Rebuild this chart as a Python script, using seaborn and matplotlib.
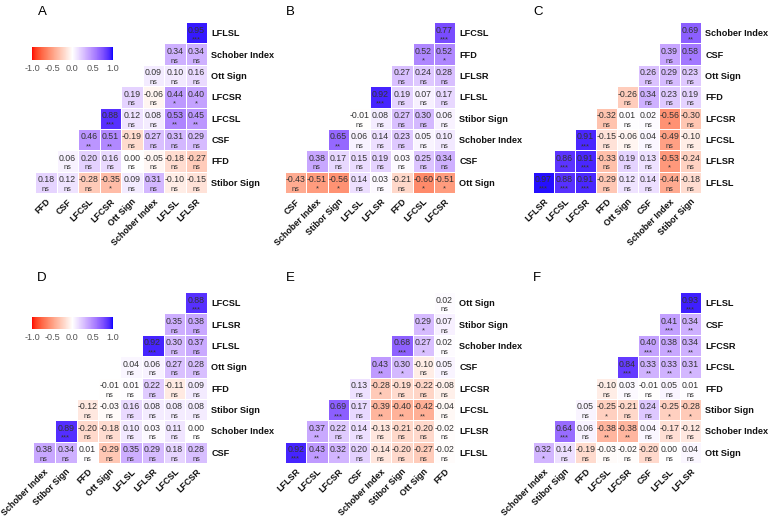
import numpy as np
import pandas as pd
import matplotlib
matplotlib.use("Agg")
import matplotlib.pyplot as plt
import seaborn as sns
from matplotlib.colors import ListedColormap

# --- data: rows listed top -> bottom, values right-aligned in each row ---
A_cols = ["FFD", "CSF", "LFCSL", "LFCSR", "Ott Sign", "Schober Index", "LFLSL", "LFLSR"]
A_rows = ["LFLSL", "Schober Index", "Ott Sign", "LFCSR", "LFCSL", "CSF", "FFD", "Stibor Sign"]
A_vals = [[0.95], [0.34, 0.34], [0.09, 0.10, 0.16], [0.19, -0.06, 0.44, 0.40],
          [0.88, 0.12, 0.08, 0.53, 0.45], [0.46, 0.51, -0.19, 0.27, 0.31, 0.29],
          [0.06, 0.20, 0.16, 0.00, -0.05, -0.18, -0.27],
          [0.18, 0.12, -0.28, -0.35, 0.09, 0.31, -0.10, -0.15]]
A_sig = [["***"], ["ns", "ns"], ["ns", "ns", "ns"], ["ns", "ns", "*", "*"],
         ["***", "ns", "ns", "**", "**"], ["**", "**", "ns", "ns", "ns", "ns"],
         ["ns"] * 7, ["ns", "ns", "ns", "*", "ns", "ns", "ns", "ns"]]

B_cols = ["CSF", "Schober Index", "Stibor Sign", "LFLSL", "LFLSR", "FFD", "LFCSL", "LFCSR"]
B_rows = ["LFCSL", "FFD", "LFLSR", "LFLSL", "Stibor Sign", "Schober Index", "CSF", "Ott Sign"]
B_vals = [[0.77], [0.52, 0.52], [0.27, 0.24, 0.28], [0.92, 0.19, 0.07, 0.17],
          [-0.01, 0.08, 0.27, 0.30, 0.06], [0.65, 0.06, 0.14, 0.23, 0.05, 0.10],
          [0.38, 0.17, 0.15, 0.19, 0.03, 0.25, 0.34],
          [-0.43, -0.51, -0.56, 0.14, 0.03, -0.21, -0.60, -0.51]]
B_sig = [["***"], ["*", "*"], ["ns"] * 3, ["***", "ns", "ns", "ns"], ["ns"] * 5,
         ["**", "ns", "ns", "ns", "ns", "ns"], ["ns"] * 7,
         ["ns", "*", "*", "ns", "ns", "ns", "*", "*"]]

C_cols = ["LFLSR", "LFCSL", "LFCSR", "FFD", "Ott Sign", "CSF", "Schober Index", "Stibor Sign"]
C_rows = ["Schober Index", "CSF", "Ott Sign", "FFD", "LFCSR", "LFCSL", "LFLSR", "LFLSL"]
C_vals = [[0.69], [0.39, 0.58], [0.26, 0.29, 0.23], [-0.26, 0.34, 0.23, 0.19],
          [-0.32, 0.01, 0.02, -0.56, -0.30], [0.91, -0.15, -0.06, 0.04, -0.49, -0.10],
          [0.86, 0.91, -0.33, 0.19, 0.13, -0.53, -0.24],
          [0.97, 0.88, 0.91, -0.29, 0.12, 0.14, -0.44, -0.18]]
C_sig = [["**"], ["ns", "*"], ["ns"] * 3, ["ns"] * 4, ["ns", "ns", "ns", "*", "ns"],
         ["***", "ns", "ns", "ns", "ns", "ns"],
         ["***", "***", "ns", "ns", "ns", "*", "ns"],
         ["***", "***", "***", "ns", "ns", "ns", "ns", "ns"]]

D_cols = ["Schober Index", "Stibor Sign", "FFD", "Ott Sign", "LFLSL", "LFLSR", "LFCSL", "LFCSR"]
D_rows = ["LFCSL", "LFLSR", "LFLSL", "Ott Sign", "FFD", "Stibor Sign", "Schober Index", "CSF"]
D_vals = [[0.88], [0.35, 0.38], [0.92, 0.30, 0.37], [0.04, 0.06, 0.27, 0.28],
          [-0.01, 0.01, 0.22, -0.11, 0.09], [-0.12, -0.03, 0.16, 0.08, 0.08, 0.08],
          [0.89, -0.20, -0.18, 0.10, 0.03, 0.11, 0.00],
          [0.38, 0.34, 0.01, -0.29, 0.35, 0.29, 0.18, 0.28]]
D_sig = [["***"], ["ns", "ns"], ["***", "ns", "ns"], ["ns"] * 4, ["ns"] * 5, ["ns"] * 6,
         ["***"] + ["ns"] * 6, ["ns"] * 8]

E_cols = ["LFLSR", "LFCSL", "LFCSR", "CSF", "Schober Index", "Stibor Sign", "Ott Sign", "FFD"]
E_rows = ["Ott Sign", "Stibor Sign", "Schober Index", "CSF", "LFCSR", "LFCSL", "LFLSR", "LFLSL"]
E_vals = [[0.02], [0.29, 0.07], [0.68, 0.27, 0.02], [0.43, 0.30, -0.10, 0.05],
          [0.13, -0.28, -0.19, -0.22, -0.08], [0.69, 0.17, -0.39, -0.40, -0.42, -0.04],
          [0.37, 0.22, 0.14, -0.13, -0.21, -0.20, -0.02],
          [0.92, 0.43, 0.32, 0.20, -0.14, -0.20, -0.27, -0.02]]
E_sig = [["ns"], ["*", "ns"], ["***", "*", "ns"], ["**", "*", "ns", "ns"],
         ["ns", "*", "ns", "ns", "ns"], ["***", "ns", "**", "**", "**", "ns"],
         ["**"] + ["ns"] * 6, ["***", "**", "*", "ns", "ns", "ns", "ns", "ns"]]

F_cols = ["Schober Index", "Stibor Sign", "FFD", "LFCSL", "LFCSR", "CSF", "LFLSL", "LFLSR"]
F_rows = ["LFLSL", "CSF", "LFCSR", "LFCSL", "FFD", "Stibor Sign", "Schober Index", "Ott Sign"]
F_vals = [[0.93], [0.41, 0.34], [0.40, 0.38, 0.34], [0.84, 0.33, 0.33, 0.31],
          [-0.10, 0.03, -0.01, 0.05, 0.01], [0.05, -0.25, -0.21, 0.24, -0.25, -0.28],
          [0.64, 0.06, -0.38, -0.38, 0.04, -0.17, -0.12],
          [0.32, 0.14, -0.19, -0.03, -0.02, -0.20, 0.00, 0.04]]
F_sig = [["***"], ["***", "**"], ["***", "**", "**"], ["***", "**", "**", "*"], ["ns"] * 5,
         ["ns", "*", "ns", "ns", "*", "*"], ["***", "ns", "**", "**", "ns", "ns", "ns"],
         ["*"] + ["ns"] * 7]


def lab_ramp(c0, c1, n):
    """interpolate two sRGB colours in CIELAB (like ggplot's gradient2)"""
    M = np.array([[0.4124564, 0.3575761, 0.1804375],
                  [0.2126729, 0.7151522, 0.0721750],
                  [0.0193339, 0.1191920, 0.9503041]])
    wn = np.array([0.95047, 1.0, 1.08883])
    d = 6 / 29

    def to_lab(c):
        c = np.asarray(c, float)
        lin = np.where(c <= 0.04045, c / 12.92, ((c + 0.055) / 1.055) ** 2.4)
        xyz = M @ lin / wn
        f = np.where(xyz > d ** 3, np.cbrt(xyz), xyz / (3 * d * d) + 4 / 29)
        return np.array([116 * f[1] - 16, 500 * (f[0] - f[1]), 200 * (f[1] - f[2])])

    def to_rgb(lab):
        fy = (lab[0] + 16) / 116
        f = np.array([fy + lab[1] / 500, fy, fy - lab[2] / 200])
        xyz = np.where(f > d, f ** 3, 3 * d * d * (f - 4 / 29)) * wn
        lin = np.linalg.inv(M) @ xyz
        lin = np.clip(lin, 0, 1)
        return np.where(lin <= 0.0031308, 12.92 * lin, 1.055 * lin ** (1 / 2.4) - 0.055)

    l0, l1 = to_lab(c0), to_lab(c1)
    return [np.clip(to_rgb(l0 + (l1 - l0) * t), 0, 1) for t in np.linspace(0, 1, n)]


cmap = ListedColormap(lab_ramp((1, 0, 0), (1, 1, 1), 128) + lab_ramp((1, 1, 1), (0, 0, 1), 128))

sns.set_theme(style="white")
plt.rcParams["font.family"] = ["Liberation Sans", "DejaVu Sans"]

W, H = 773, 524
fig = plt.figure(figsize=(W / 100, H / 100), dpi=100)


def px(x0, y0, x1, y1):
    return [x0 / W, 1 - y1 / H, (x1 - x0) / W, (y1 - y0) / H]


def draw_panel(box, cols, rows, vals, sig, letter, letter_xy, cbar_box=None):
    ax = fig.add_axes(px(*box))
    n = len(cols)
    mat = np.full((n, n), np.nan)
    for i, rv in enumerate(vals):
        mat[i, n - len(rv):] = rv
    df = pd.DataFrame(mat, index=rows, columns=cols)
    cax = fig.add_axes(px(*cbar_box)) if cbar_box else None
    sns.heatmap(df, ax=ax, cmap=cmap, vmin=-1, vmax=1, mask=np.isnan(mat),
                linewidths=0.6, linecolor="white", cbar=cax is not None, cbar_ax=cax,
                cbar_kws={"orientation": "horizontal", "ticks": [-1, -0.5, 0, 0.5, 1]})
    for i, (rv, rs) in enumerate(zip(vals, sig)):
        for k, (v, s) in enumerate(zip(rv, rs)):
            j = n - len(rv) + k
            ax.text(j + 0.5, i + 0.38, f"{v:.2f}", ha="center", va="center",
                    fontsize=6.3, color="#333333")
            ax.text(j + 0.5, i + 0.9, s, ha="center", va="baseline",
                    fontsize=5.3, color="#333333")
    ax.yaxis.tick_right()
    ax.set_yticks(np.arange(n) + 0.5)
    ax.set_yticklabels(rows, rotation=0, fontsize=6.6, fontweight="bold", color="#111111")
    ax.set_xticks(np.arange(n) + 0.5)
    ax.set_xticklabels(cols, rotation=45, ha="right", rotation_mode="anchor",
                       fontsize=6.4, fontweight="bold", color="#111111")
    ax.tick_params(length=0, pad=3)
    ax.set_xlabel("")
    ax.set_ylabel("")
    fig.text(letter_xy[0] / W, 1 - letter_xy[1] / H, letter, fontsize=9.5,
             ha="center", va="center", color="black")
    if cax is not None:
        cb = ax.collections[0].colorbar
        cb.outline.set_visible(False)
        cax.tick_params(length=0, labelsize=6.6, labelcolor="#555555", pad=3)
        cax.set_xticklabels(["-1.0", "-0.5", "0.0", "0.5", "1.0"])


draw_panel((35, 22, 207, 193), A_cols, A_rows, A_vals, A_sig, "A", (42, 12), (32, 47, 113, 60))
draw_panel((285, 22, 455, 193), B_cols, B_rows, B_vals, B_sig, "B", (290, 12))
draw_panel((533, 22, 701, 193), C_cols, C_rows, C_vals, C_sig, "C", (538, 12))
draw_panel((33, 292, 207, 463), D_cols, D_rows, D_vals, D_sig, "D", (42, 278), (32, 317, 113, 329))
draw_panel((285, 292, 455, 463), E_cols, E_rows, E_vals, E_sig, "E", (290, 278))
draw_panel((533, 292, 701, 463), F_cols, F_rows, F_vals, F_sig, "F", (537, 278))

fig.savefig("out.png", dpi=100, facecolor="white")
